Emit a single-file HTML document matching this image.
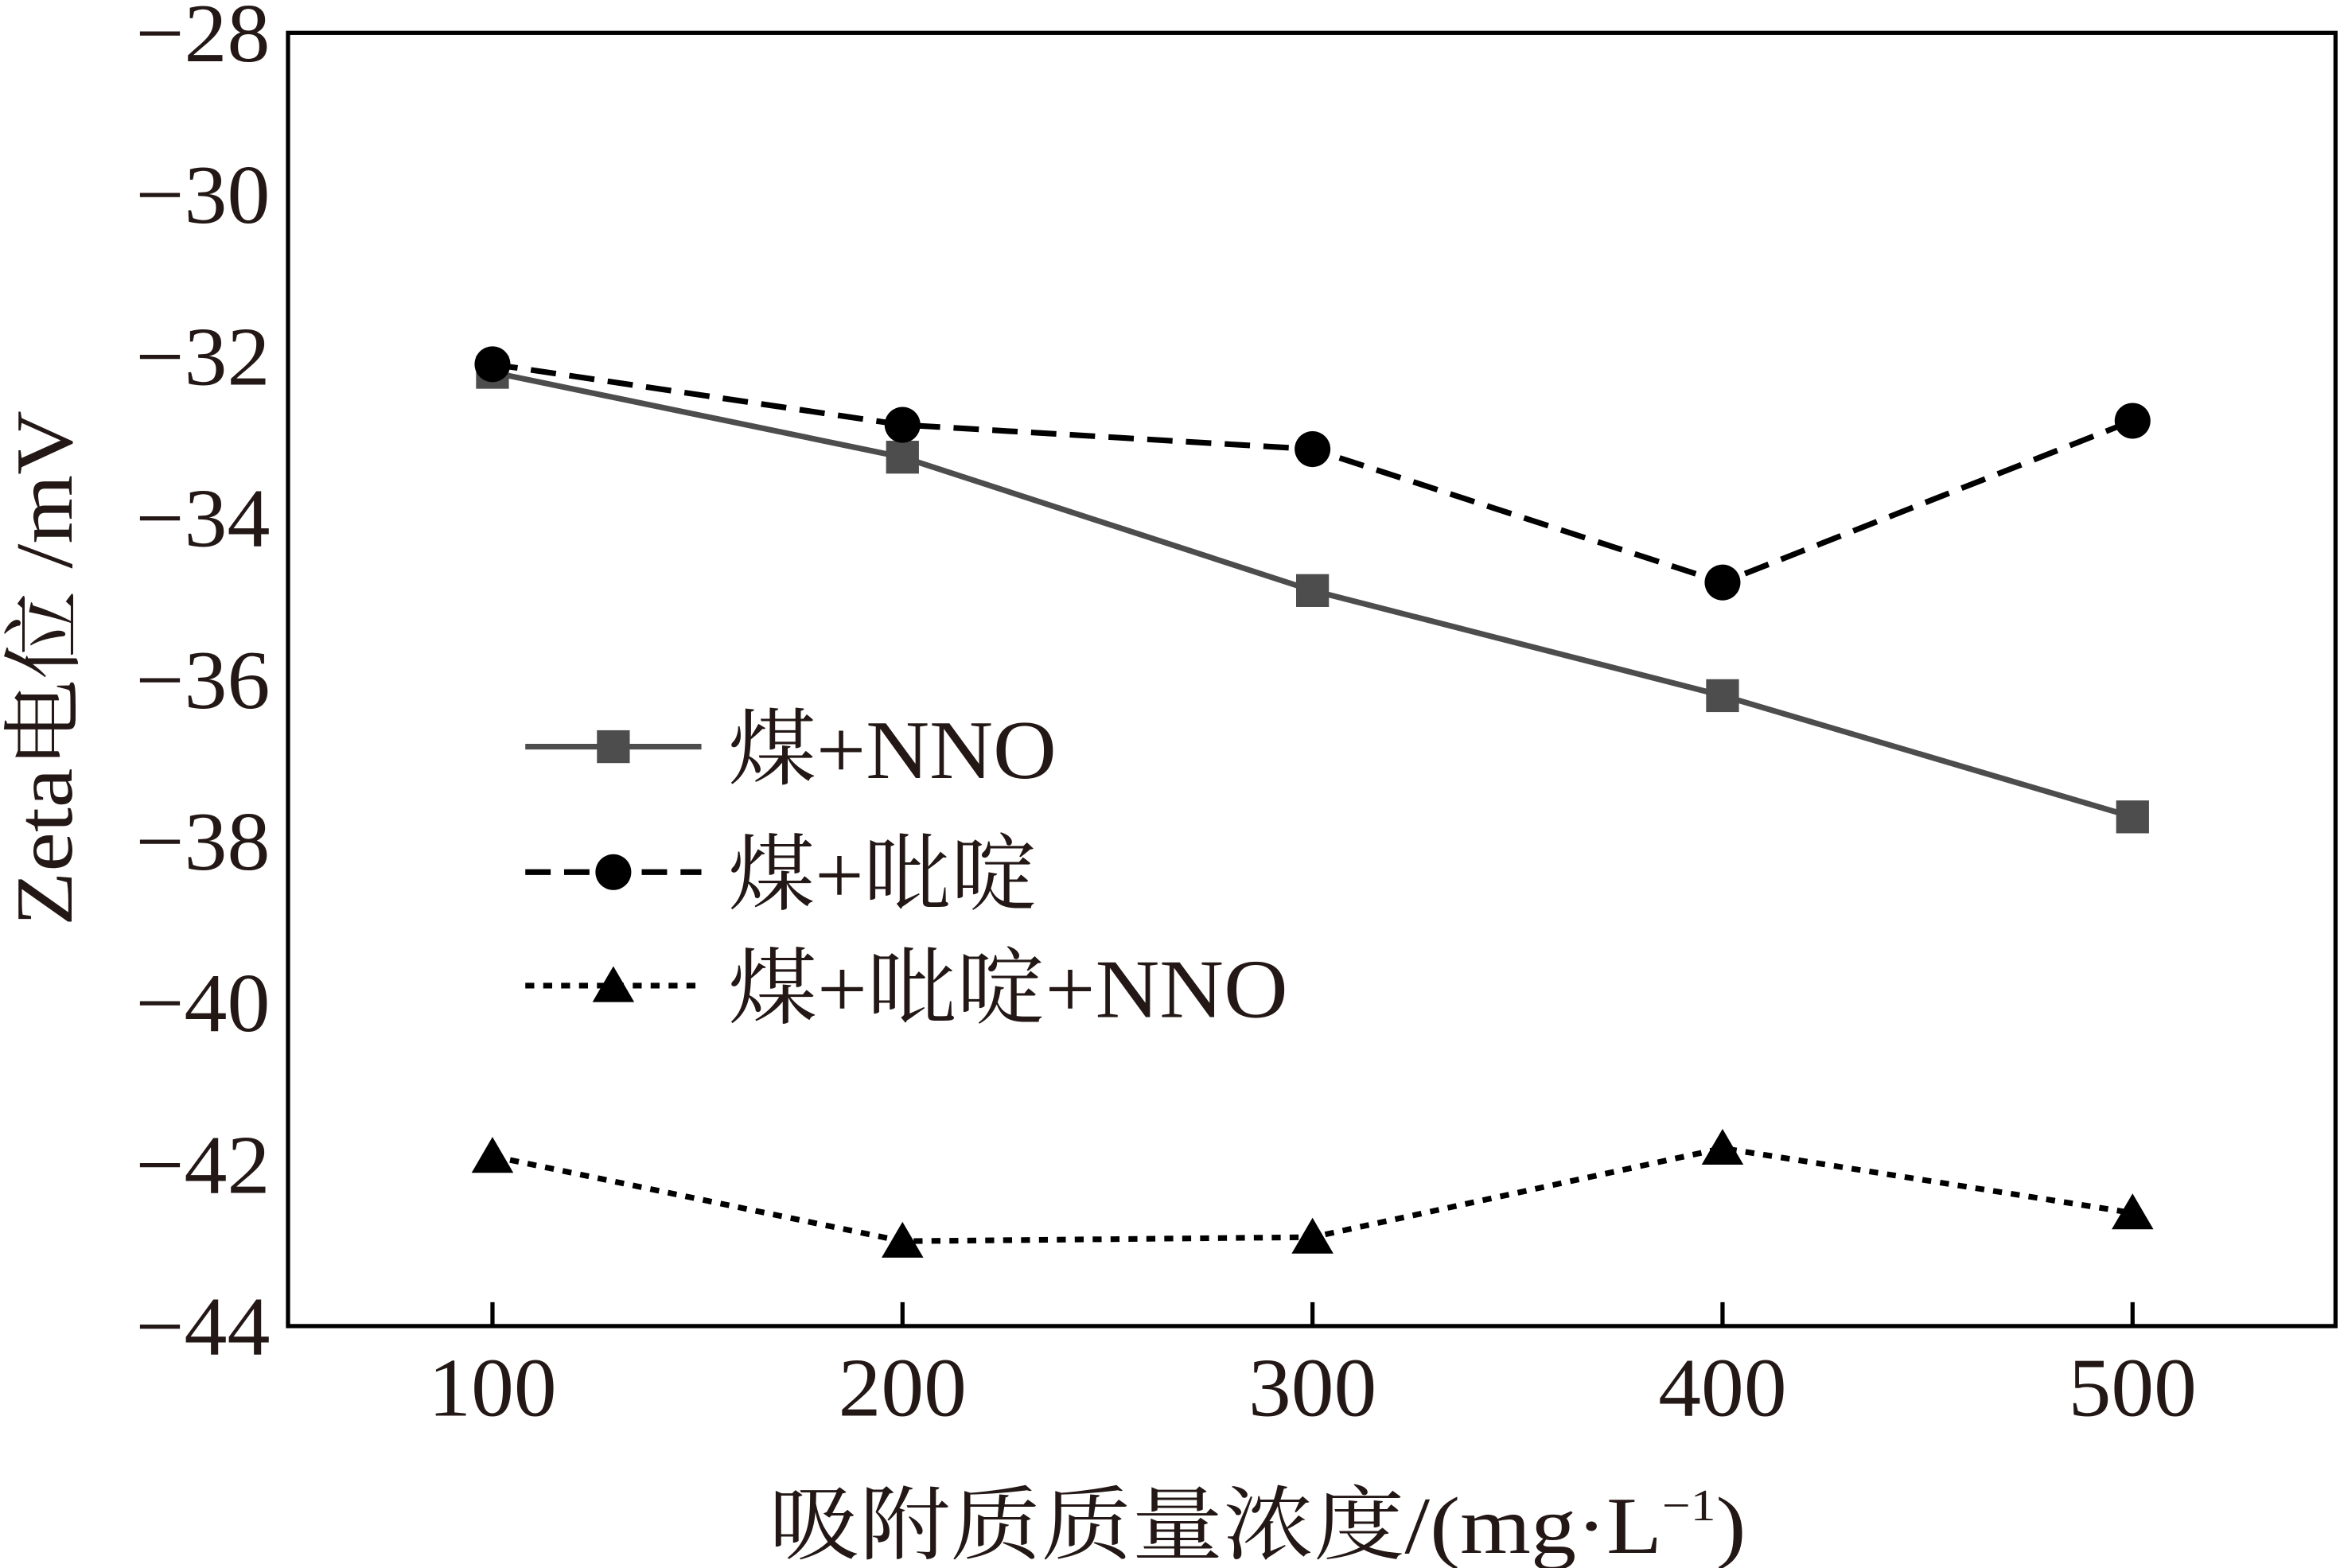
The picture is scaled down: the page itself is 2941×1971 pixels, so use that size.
<!DOCTYPE html>
<html><head><meta charset="utf-8"><style>
html,body{margin:0;padding:0;background:#fff;}
svg{display:block;}
text{font-family:"Liberation Serif","Noto Serif CJK SC",serif;fill:#231815;}
</style></head><body>
<svg id="chart" width="2941" height="1971" viewBox="0 0 1568 1050" preserveAspectRatio="none" xmlns="http://www.w3.org/2000/svg">
<g id="plot"></g>
</svg>
<script>
const categories=[100,200,300,400,500];
const seriesNNO=[-32.2,-33.25,-34.9,-36.2,-37.7];
const seriesPyr=[-32.1,-32.85,-33.15,-34.8,-32.8];
const seriesBoth=[-41.9,-42.95,-42.9,-41.8,-42.6];
const yTicks=[-28,-30,-32,-34,-36,-38,-40,-42,-44];
const xTicks=[100,200,300,400,500];
const L=193,T=22,R=1565,B=888;
function xs(v){return 330+(v-100)*(1429-330)/400;}
function ys(v){return T+(-28-v)*(B-T)/16;}
const NS="http://www.w3.org/2000/svg";
const g=document.getElementById('plot');
function mk(tag,attrs,name){const e=document.createElementNS(NS,tag);for(const k in attrs)e.setAttribute(k,attrs[k]);


g.appendChild(e);return e;}
mk('rect',{x:L,y:T,width:R-L,height:B-T,fill:'none',stroke:'#000','stroke-width':2.8},'plot-frame');
xTicks.forEach(v=>{
 mk('line',{x1:xs(v),x2:xs(v),y1:B,y2:B-16,stroke:'#000','stroke-width':2.8},'x-tick');
 const t=mk('text',{x:xs(v),y:948,'font-size':56,'text-anchor':'middle',textLength:86,lengthAdjust:'spacingAndGlyphs'},'x-tick-label');t.textContent=v;
});
yTicks.forEach(v=>{
 const t=mk('text',{x:181,y:ys(v)+19,'font-size':56,'text-anchor':'end',textLength:90,lengthAdjust:'spacingAndGlyphs'},'y-tick-label');t.textContent='\u2212'+Math.abs(v);
});
const xt=mk('text',{x:515,y:1040,'font-size':54,textLength:655,lengthAdjust:'spacingAndGlyphs'},'x-axis-title');
xt.innerHTML='吸附质质量浓度/(mg·L<tspan font-size="30" dy="-22">−1</tspan><tspan dy="22">)</tspan>';
const yt=mk('text',{x:0,y:0,'font-size':54,textLength:345,lengthAdjust:'spacingAndGlyphs',transform:'translate(48,620) rotate(-90)'},'y-axis-title');
yt.textContent='Zeta电位 /mV';
function line(vals,color,dash,name){
 const pts=vals.map((v,i)=>xs(categories[i])+','+ys(v)).join(' ');
 const a={points:pts,fill:'none',stroke:color,'stroke-width':3.8};if(dash)a['stroke-dasharray']=dash;
 mk('polyline',a,name);
}
function marker(type,x,y,color,name){
 if(type==='sq')mk('rect',{x:x-11,y:y-11,width:22,height:22,fill:color},name);
 else if(type==='ci')mk('circle',{cx:x,cy:y,r:12,fill:color},name);
 else mk('polygon',{points:`${x},${y-13} ${x-14},${y+11} ${x+14},${y+11}`,fill:color},name);
}
line(seriesNNO,'#4d4d4d',null,'line-coal-nno');
line(seriesPyr,'#000','17 9','line-coal-pyridine');
line(seriesBoth,'#000','6 6','line-coal-pyridine-nno');
seriesNNO.forEach((v,i)=>marker('sq',xs(categories[i]),ys(v),'#4d4d4d','point-coal-nno'));
seriesPyr.forEach((v,i)=>marker('ci',xs(categories[i]),ys(v),'#000','point-coal-pyridine'));
seriesBoth.forEach((v,i)=>marker('tr',xs(categories[i]),ys(v),'#000','point-coal-pyridine-nno'));
const leg=[['sq','#4d4d4d',null,'煤+NNO',500,220],['ci','#000','17 9','煤+吡啶',584,207],['tr','#000','6 6','煤+吡啶+NNO',660,375]];
leg.forEach(l=>{
 const a={x1:352,x2:470,y1:l[4],y2:l[4],stroke:l[1],'stroke-width':3.8};if(l[2])a['stroke-dasharray']=l[2];
 mk('line',a,'legend-line');
 marker(l[0],411,l[4],l[1],'legend-marker');
 const t=mk('text',{x:488,y:l[4]+21,'font-size':56,textLength:l[5],lengthAdjust:'spacingAndGlyphs'},'legend-label');t.textContent=l[3];
});
</script>
</body></html>
